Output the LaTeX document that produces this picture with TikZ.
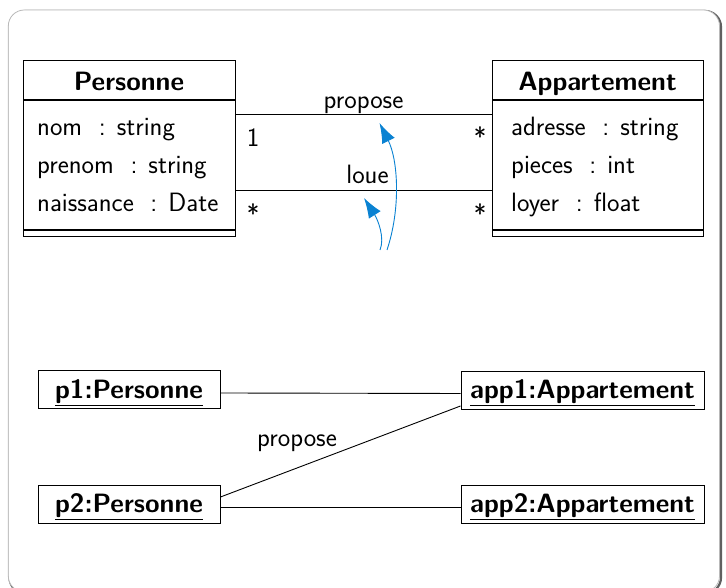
\documentclass[tikz,border=0pt]{standalone}
\usetikzlibrary{arrows.meta,calc}
\renewcommand\familydefault{\sfdefault}
\definecolor{arrowblue}{RGB}{10,130,210}
\newcommand\bigtxt{\fontsize{26.5}{32}\selectfont}
\tikzset{
  box/.style={draw, line width=1pt, inner sep=0pt},
  txt/.style={anchor=base, inner sep=0pt, font=\bigtxt},
  attr/.style={anchor=base west, inner sep=0pt, font=\bigtxt},
  assoc/.style={draw, line width=0.9pt},
  obj/.style={draw, line width=1pt, inner sep=0pt, minimum height=38, font=\bigtxt\bfseries, text height=22.5, text depth=5.6},
  hint/.style={draw=arrowblue, line width=0.9pt, -{Latex[length=20pt,width=14pt]}},
}
\begin{document}
\begin{tikzpicture}[x=1pt,y=1pt]
\useasboundingbox (0,0) rectangle (726,588);
% frame
\draw[gray!75!black, line width=2.2pt, rounded corners=16] (9.5,-5.5) rectangle (721,577);
\draw[gray!55, fill=white, line width=0.8pt, rounded corners=16] (8.3,-4) rectangle (719.5,578);

% class Personne
\node[box, minimum width=212, minimum height=39] (pT) at (129,507.5) {};
\node[box, minimum width=212, minimum height=129, anchor=north] (pA) at (pT.south) {};
\node[box, minimum width=212, minimum height=6, anchor=north] (pM) at (pA.south) {};
\node[txt, font=\bigtxt\bfseries] (pTt) at (129,497) {Personne};
\node[attr] (pa1) at (37,452) {nom\ \ : string};
\node[attr] (pa2) at (37,414) {prenom\ \ : string};
\node[attr] (pa3) at (37,376) {naissance\ \ : Date};

% class Appartement
\node[box, minimum width=211, minimum height=39] (aT) at (597.5,507.5) {};
\node[box, minimum width=211, minimum height=129, anchor=north] (aA) at (aT.south) {};
\node[box, minimum width=211, minimum height=6, anchor=north] (aM) at (aA.south) {};
\node[txt, font=\bigtxt\bfseries] (aTt) at (597.5,497) {Appartement};
\node[attr] (aa1) at (511,452) {adresse\ \ : string};
\node[attr] (aa2) at (511,414) {pieces\ \ : int};
\node[attr] (aa3) at (511,376) {loyer\ \ : float};

% associations
\draw[assoc] (pA.east |- 0,474) -- (aA.west |- 0,474)
  node[txt, midway, yshift=5.7] (lprop) {propose};
\draw[assoc] (pA.east |- 0,398) -- (aA.west |- 0,398)
  node[txt, midway, xshift=4, yshift=6.7] (lloue) {loue};
\node[txt] (m1) at (253,441.3) {1};
\node[txt] (m2) at (480,441.3) {*};
\node[txt] (m3) at (253,364.8) {*};
\node[txt] (m4) at (480,364.8) {*};

% blue hint arrows
\coordinate (hA) at (387,338);
\coordinate (hB) at (380,338);
\draw[hint] (hA) .. controls (401,380) and (398,428) .. (379.5,465);
\draw[hint] (hB) .. controls (385,350) and (378,368) .. (364,390);

% objects
\node[obj, minimum width=182] (p1) at (129,198) {\underline{p1:Personne}};
\node[obj, minimum width=243] (app1) at (582.5,197.5) {\underline{app1:Appartement}};
\node[obj, minimum width=182] (p2) at (129,83.5) {\underline{p2:Personne}};
\node[obj, minimum width=243] (app2) at (582.5,83.5) {\underline{app2:Appartement}};

\draw[assoc] ([yshift=-3]p1.east) -- ([yshift=-3]app1.west);
\draw[assoc] ([yshift=-2.5]p2.east) -- ([yshift=-2.5]app2.west);
\draw[assoc] ([yshift=7.5]p2.east) -- ([yshift=-15.5]app1.west);
\node[txt] (lprop2) at (297,141) {propose};
\end{tikzpicture}
\end{document}
